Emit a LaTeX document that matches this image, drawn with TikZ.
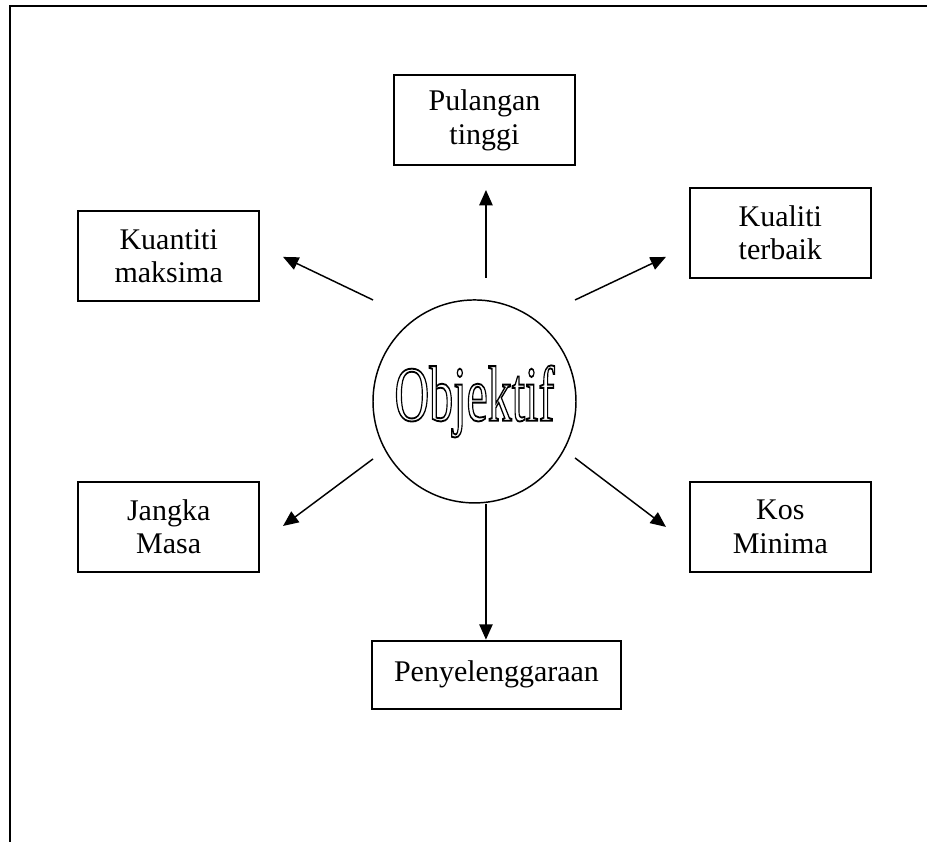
\documentclass[tikz,border=0pt]{standalone}
\usepackage{fontspec}
\setmainfont{Liberation Serif}
\usepackage{xcolor}
\usepackage{tikz}
\usetikzlibrary{shapes,arrows,positioning,calc,arrows.meta}

% outlined text (stroke only)
\newcommand{\outlinetext}[1]{\special{pdf:literal direct 1 Tr 1.4 w}#1\special{pdf:literal direct 0 Tr}}

\begin{document}
\begin{tikzpicture}[node distance=1cm,
    goalbox/.style={draw, rectangle, line width=1.4pt, minimum width=136pt, minimum height=67.5pt, inner sep=0pt, align=center, font=\fontsize{22.5}{25}\selectfont},
    arr/.style={-{Triangle[length=11.5pt,width=10pt]}, line width=1.1pt}]
    \useasboundingbox (-355.9pt,-330.4pt) rectangle (339.4pt,301.1pt);

    % Outer frame (left and top only)
    \draw [line width=2pt] (-348.4pt,-330.4pt) -- (-348.4pt,296.6pt) -- (339.4pt,296.6pt);

    % Objektif circle in the middle
    \node [draw, circle, line width=1.1pt, minimum size=152.25pt, inner sep=0pt] (obj) at (0,0)
        {\scalebox{0.61}[1]{\fontsize{59}{60}\selectfont\outlinetext{Objektif}}};

    % Boxes round the circle
    \node [goalbox, above=99.75pt of obj, xshift=7.5pt] (pulangan) {Pulangan\\tinggi};
    \node [goalbox, left=84pt of obj, yshift=109.1pt] (kuantiti) {Kuantiti\\maksima};
    \node [goalbox, right=84pt of obj, yshift=126.4pt] (kualiti) {Kualiti\\terbaik};
    \node [goalbox, left=84pt of obj, yshift=-94.1pt] (jangka) {Jangka\\Masa};
    \node [goalbox, right=84pt of obj, yshift=-94.1pt] (kos) {Kos\\Minima};
    \node [goalbox, minimum width=186.75pt, minimum height=51pt, below=102pt of obj, xshift=16.5pt] (penyelenggaraan) {Penyelenggaraan};

    % Arrow ends
    \coordinate (pulS) at (8.6pt,92.6pt);
    \coordinate (pulE) at (8.6pt,158.6pt);
    \coordinate (kuanS) at (-76.1pt,76.1pt);
    \coordinate (kuanE) at (-143.6pt,108.4pt);
    \coordinate (kualS) at (75.4pt,76.1pt);
    \coordinate (kualE) at (143.6pt,108.4pt);
    \coordinate (jangS) at (-76.1pt,-43.1pt);
    \coordinate (jangE) at (-143.6pt,-93.4pt);
    \coordinate (kosS) at (75.4pt,-42.4pt);
    \coordinate (kosE) at (143.6pt,-94.1pt);
    \coordinate (penS) at ($(obj.south)+(8.6pt,0)$);

    % Arrows
    \draw [arr] (pulS) -- (pulE);
    \draw [arr] (kuanS) -- (kuanE);
    \draw [arr] (kualS) -- (kualE);
    \draw [arr] (jangS) -- (jangE);
    \draw [arr] (kosS) -- (kosE);
    \draw [arr] (penS) -- (penS |- penyelenggaraan.north);
\end{tikzpicture}
\end{document}
